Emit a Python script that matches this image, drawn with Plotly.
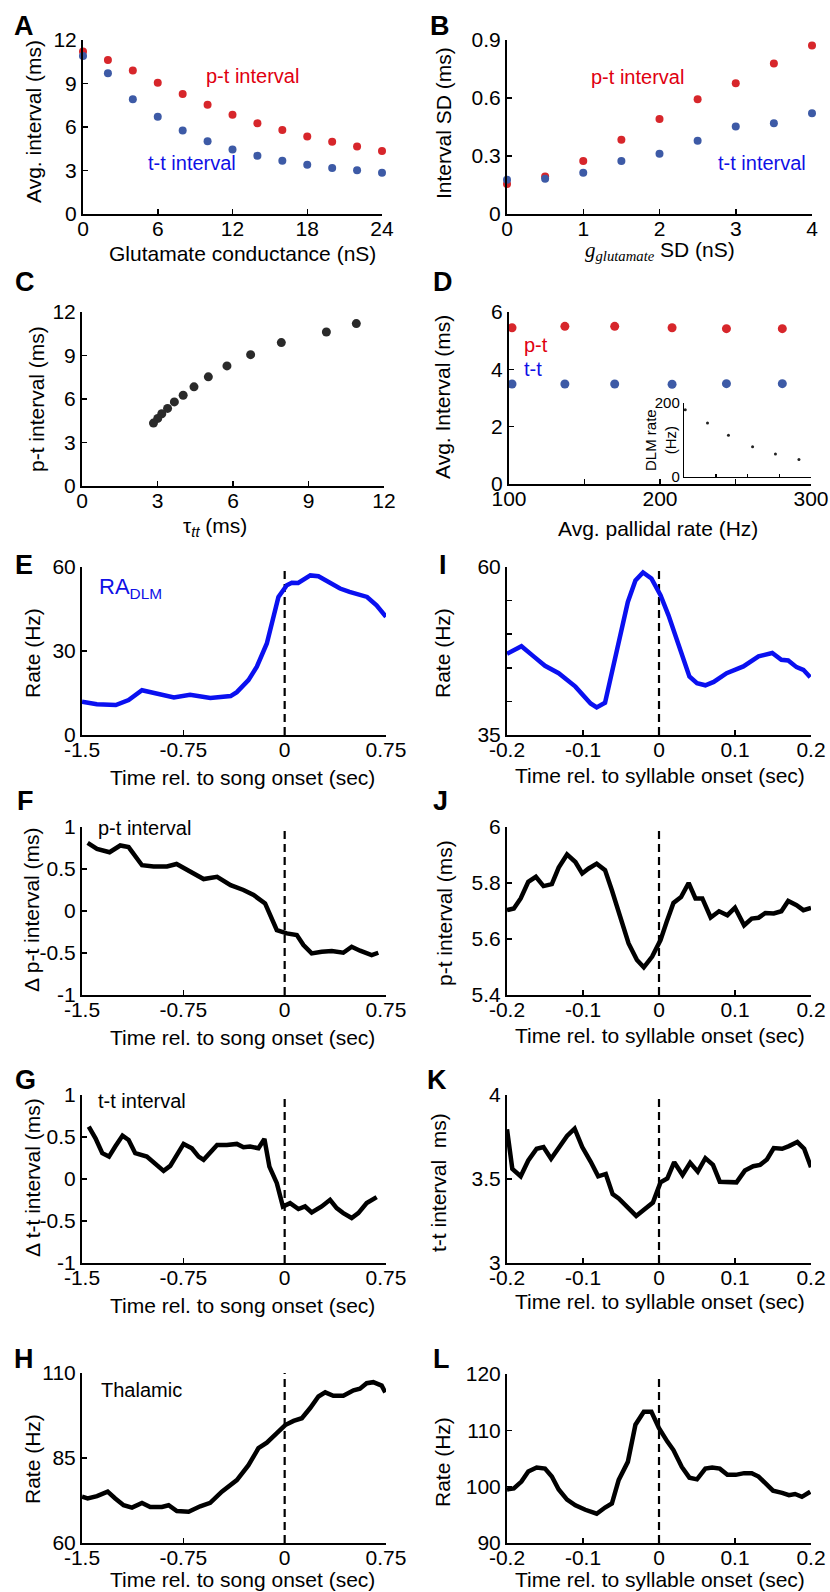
import plotly.graph_objects as go

W, H = 830, 1592

# ---------------- Panel A ----------------
glut_cond = [0, 2, 4, 6, 8, 10, 12, 14, 16, 18, 20, 22, 24]
pt_interval_A = [11.2, 10.62, 9.89, 9.06, 8.28, 7.53, 6.84, 6.26, 5.80, 5.35, 4.98, 4.66, 4.34]
tt_interval_A = [10.9, 9.71, 7.92, 6.70, 5.76, 5.02, 4.45, 4.02, 3.67, 3.40, 3.17, 3.01, 2.84]

# ---------------- Panel B ----------------
glut_sd = [0, 0.5, 1, 1.5, 2, 2.5, 3, 3.5, 4]
pt_sd = [0.155, 0.194, 0.274, 0.384, 0.492, 0.594, 0.676, 0.778, 0.871]
tt_sd = [0.177, 0.182, 0.213, 0.274, 0.311, 0.379, 0.453, 0.470, 0.521]

# ---------------- Panel C (tau_tt vs p-t interval) ----------------
tau_tt = tt_interval_A
pt_C = pt_interval_A

# ---------------- Panel D ----------------
pallidal_rate = [102, 137, 170, 208, 244, 281]
pt_D = [5.45, 5.50, 5.50, 5.45, 5.42, 5.42]
tt_D = [3.49, 3.49, 3.49, 3.48, 3.50, 3.50]
dlm_rate = [182, 146, 113, 82, 62, 47]

# ---------------- Panel E ----------------
tE = [-1.5, -1.39, -1.25, -1.155, -1.056, -0.945, -0.82, -0.70, -0.55, -0.40, -0.354, -0.268,
      -0.206, -0.132, -0.083, -0.046, 0.016, 0.053, 0.10, 0.14, 0.19, 0.25, 0.32, 0.41, 0.48,
      0.61, 0.68, 0.75]
rateE = [11.9, 11.0, 10.7, 12.5, 16.0, 14.6, 13.4, 14.4, 13.2, 13.9, 15.3, 19.6,
         24.4, 32.7, 42.2, 49.3, 53.5, 54.4, 54.3, 55.5, 57.0, 56.7, 54.7, 52.3, 51.1,
         49.3, 46.3, 42.2]

# ---------------- Panel I ----------------
tI = [-0.2, -0.181, -0.165, -0.150, -0.132, -0.110, -0.090, -0.082, -0.071, -0.058, -0.041,
      -0.031, -0.021, -0.010, 0.002, 0.0125, 0.026, 0.040, 0.050, 0.061, 0.072, 0.089, 0.111,
      0.131, 0.149, 0.161, 0.170, 0.181, 0.190, 0.199]
rateI = [47.1, 48.2, 46.7, 45.3, 44.2, 42.2, 39.7, 39.1, 39.8, 46.1, 54.8,
         58.0, 59.2, 58.3, 55.8, 52.8, 48.1, 43.7, 42.7, 42.4, 42.9, 44.2, 45.2,
         46.7, 47.2, 46.2, 46.1, 45.1, 44.7, 43.6]

# ---------------- Panel F ----------------
tF = [-1.458, -1.389, -1.296, -1.217, -1.155, -1.056, -0.97, -0.871, -0.80, -0.70, -0.60, -0.50,
      -0.40, -0.305, -0.23, -0.145, -0.095, -0.058, 0.016, 0.09, 0.139, 0.20, 0.274, 0.349,
      0.434, 0.496, 0.558, 0.644, 0.693]
dptF = [0.81, 0.74, 0.70, 0.78, 0.76, 0.545, 0.53, 0.53, 0.56, 0.465, 0.38, 0.406,
        0.307, 0.25, 0.19, 0.09, -0.109, -0.228, -0.267, -0.287, -0.406, -0.505, -0.485, -0.477,
        -0.497, -0.426, -0.473, -0.525, -0.497]

# ---------------- Panel J ----------------
tJ = [-0.2, -0.191, -0.182, -0.172, -0.162, -0.152, -0.141, -0.132, -0.121, -0.110, -0.101,
      -0.093, -0.082, -0.071, -0.062, -0.051, -0.040, -0.029, -0.020, -0.009, 0.002, 0.010,
      0.019, 0.029, 0.039, 0.048, 0.057, 0.068, 0.079, 0.090, 0.100, 0.112, 0.122, 0.131,
      0.140, 0.151, 0.161, 0.170, 0.181, 0.190, 0.2]
ptJ = [5.703, 5.709, 5.745, 5.804, 5.822, 5.789, 5.796, 5.855, 5.902, 5.875, 5.834,
       5.851, 5.869, 5.846, 5.774, 5.685, 5.584, 5.525, 5.499, 5.537, 5.596, 5.661,
       5.729, 5.750, 5.800, 5.745, 5.745, 5.677, 5.699, 5.685, 5.712, 5.649, 5.673, 5.676,
       5.693, 5.691, 5.699, 5.736, 5.721, 5.703, 5.711]

# ---------------- Panel G ----------------
tG = [-1.45, -1.40, -1.35, -1.30, -1.254, -1.20, -1.155, -1.106, -1.02, -0.958, -0.896, -0.847,
      -0.748, -0.687, -0.637, -0.60, -0.50, -0.428, -0.354, -0.305, -0.256, -0.194, -0.150,
      -0.113, -0.058, -0.013, 0.040, 0.102, 0.151, 0.20, 0.274, 0.336, 0.385, 0.434, 0.496,
      0.545, 0.607, 0.681]
dttG = [0.624, 0.485, 0.307, 0.267, 0.386, 0.517, 0.465, 0.307, 0.267, 0.188, 0.097, 0.156,
        0.418, 0.366, 0.267, 0.228, 0.406, 0.406, 0.418, 0.378, 0.386, 0.366, 0.477,
        0.148, -0.050, -0.327, -0.287, -0.358, -0.327, -0.398, -0.327, -0.248, -0.347, -0.406,
        -0.465, -0.406, -0.287, -0.216]

# ---------------- Panel K ----------------
tK = [-0.2, -0.193, -0.182, -0.172, -0.161, -0.152, -0.142, -0.132, -0.121, -0.111, -0.101,
      -0.090, -0.080, -0.070, -0.061, -0.053, -0.042, -0.030, -0.019, -0.008, 0.002, 0.011,
      0.020, 0.031, 0.041, 0.051, 0.061, 0.071, 0.080, 0.091, 0.102, 0.113, 0.124, 0.133,
      0.142, 0.151, 0.162, 0.171, 0.182, 0.191, 0.2]
ttK = [3.796, 3.56, 3.516, 3.61, 3.68, 3.69, 3.62, 3.68, 3.756, 3.80, 3.69,
       3.604, 3.516, 3.53, 3.41, 3.384, 3.33, 3.28, 3.32, 3.36, 3.48, 3.504,
       3.60, 3.524, 3.596, 3.544, 3.624, 3.584, 3.484, 3.48, 3.48, 3.55, 3.576, 3.584,
       3.616, 3.684, 3.68, 3.696, 3.72, 3.68, 3.57]

# ---------------- Panel H ----------------
tH = [-1.5, -1.458, -1.389, -1.31, -1.254, -1.192, -1.13, -1.056, -0.995, -0.909, -0.859, -0.798,
      -0.711, -0.625, -0.551, -0.465, -0.354, -0.268, -0.194, -0.132, -0.058, 0.004, 0.066,
      0.127, 0.189, 0.25, 0.30, 0.36, 0.434, 0.51, 0.557, 0.607, 0.656, 0.718, 0.745]
rateH = [73.6, 73.1, 73.8, 75.1, 73.1, 71.1, 70.4, 71.8, 70.6, 70.6, 71.1, 69.4,
         69.2, 70.8, 71.8, 75.1, 78.5, 82.9, 87.9, 89.5, 92.3, 94.7, 95.9,
         96.7, 99.7, 103.1, 104.3, 103.3, 103.3, 104.9, 105.4, 107.0, 107.3, 106.3, 104.3]

# ---------------- Panel L ----------------
tL = [-0.2, -0.191, -0.181, -0.172, -0.161, -0.150, -0.141, -0.132, -0.121, -0.110, -0.097,
      -0.082, -0.071, -0.062, -0.053, -0.041, -0.031, -0.020, -0.010, 0.000, 0.011, 0.019,
      0.030, 0.040, 0.050, 0.061, 0.070, 0.080, 0.090, 0.101, 0.112, 0.122, 0.131, 0.142,
      0.150, 0.162, 0.171, 0.179, 0.188, 0.199]
rateL = [99.5, 99.7, 100.9, 102.7, 103.4, 103.2, 101.8, 99.5, 97.7, 96.7, 95.9,
         95.2, 96.3, 97.0, 101.2, 104.4, 111.0, 113.3, 113.3, 110.4, 108.0, 106.5,
         103.5, 101.6, 101.3, 103.2, 103.4, 103.2, 102.1, 102.1, 102.4, 102.4, 101.8, 100.3,
         99.3, 98.9, 98.5, 98.7, 98.2, 99.1]

# ---------------- styling ----------------
FONT = "Liberation Sans, Arial, sans-serif"
RED_DOT = "#d7262b"
BLUE_DOT = "#3d5aa6"
RED_TXT = "#e00010"
BLUE_TXT = "#1010e6"
LINE_BLUE = "#0a10f0"
TICK_FS = 21
TITLE_FS = 21
NOTE_FS = 20
LETTER_FS = 27

def fx(px):
    return px / W

def fy(py):
    return 1 - py / H

fig = go.Figure()
layout = {}

def ax_ids(i):
    return ("x" if i == 1 else f"x{i}", "y" if i == 1 else f"y{i}")

def add_axes(i, xd, yd, xr, yr, xt, yt, xtt=None, ytt=None, fs=TICK_FS, lw=2, tl=5, xstand=-5):
    xid, yid = ax_ids(i)
    xkey = "xaxis" if i == 1 else f"xaxis{i}"
    ykey = "yaxis" if i == 1 else f"yaxis{i}"
    common = dict(showline=True, linewidth=lw, linecolor="black", ticks="inside", ticklen=tl,
                  tickwidth=1.5, tickcolor="black", showgrid=False, zeroline=False, automargin=False,
                  tickfont=dict(family=FONT, size=fs, color="black"), mirror=False)
    layout[xkey] = dict(domain=[fx(xd[0]), fx(xd[1])], range=xr, anchor=yid, tickmode="array",
                        ticklabelstandoff=xstand,
                        tickvals=xt, ticktext=xtt if xtt is not None else [str(v) for v in xt], **common)
    layout[ykey] = dict(domain=[fy(yd[1]), fy(yd[0])], range=yr, anchor=xid, tickmode="array",
                        tickvals=yt, ticktext=ytt if ytt is not None else [str(v) for v in yt], **common)
    return xid, yid

def dots(xid, yid, x, y, color, size):
    fig.add_trace(go.Scatter(x=x, y=y, mode="markers", xaxis=xid, yaxis=yid, cliponaxis=False,
                             marker=dict(color=color, size=size, line=dict(width=0)), showlegend=False))

def curve(xid, yid, x, y, color):
    fig.add_trace(go.Scatter(x=x, y=y, mode="lines", xaxis=xid, yaxis=yid, cliponaxis=False,
                             line=dict(color=color, width=4.5), showlegend=False))

def vdash(xid, yid):
    layout.setdefault("shapes", []).append(dict(type="line", xref=xid, yref=f"{yid} domain",
                                                x0=0, x1=0, y0=0, y1=1, layer="below",
                                                line=dict(color="black", width=2.2, dash="8px,5px")))

annots = []

def text(x, y, s, size=TITLE_FS, color="black", angle=0, xanchor="center", bold=False):
    annots.append(dict(x=fx(x), y=fy(y), xref="paper", yref="paper", text=(f"<b>{s}</b>" if bold else s),
                       showarrow=False, textangle=angle, xanchor=xanchor, yanchor="middle",
                       font=dict(family=FONT, size=size, color=color)))

# A
xa, ya = add_axes(1, (83, 382), (40, 214), [0, 24], [0, 12], [0, 6, 12, 18, 24], [0, 3, 6, 9, 12])
dots(xa, ya, glut_cond, pt_interval_A, RED_DOT, 8)
dots(xa, ya, glut_cond, tt_interval_A, BLUE_DOT, 8)
text(252, 76, "p-t interval", NOTE_FS, RED_TXT)
text(192, 163, "t-t interval", NOTE_FS, BLUE_TXT)
text(242, 253, "Glutamate conductance (nS)")
text(34, 122, "Avg. interval (ms)", angle=-90)
text(24, 26, "A", LETTER_FS, bold=True)

# B
xb, yb = add_axes(2, (507, 812), (40, 214), [0, 4], [0, 0.9], [0, 1, 2, 3, 4], [0, 0.3, 0.6, 0.9])
dots(xb, yb, glut_sd, pt_sd, RED_DOT, 8)
dots(xb, yb, glut_sd, tt_sd, BLUE_DOT, 8)
text(637, 77, "p-t interval", NOTE_FS, RED_TXT)
text(762, 163, "t-t interval", NOTE_FS, BLUE_TXT)
text(660, 251, "<span style='font-family:Liberation Serif'><i>g<sub>glutamate</sub></i></span> SD (nS)")
text(444, 123, "Interval SD (ms)", angle=-90)
text(440, 26, "B", LETTER_FS, bold=True)

# C
xc, yc = add_axes(3, (82, 384), (312, 486), [0, 12], [0, 12], [0, 3, 6, 9, 12], [0, 3, 6, 9, 12])
dots(xc, yc, tau_tt, pt_C, "#2a2a2a", 9)
text(215, 527, "τ<sub><i>tt</i></sub> (ms)")
text(36, 399, "p-t interval (ms)", angle=-90)
text(25, 282, "C", LETTER_FS, bold=True)

# D
xdd, ydd = add_axes(4, (509, 811), (312, 484), [100, 300], [0, 6], [100, 150, 200, 250, 300], [0, 2, 4, 6],
                    xtt=["100", "", "200", "", "300"])
dots(xdd, ydd, pallidal_rate, pt_D, RED_DOT, 9)
dots(xdd, ydd, pallidal_rate, tt_D, BLUE_DOT, 9)
text(522, 345, "p-t", NOTE_FS, RED_TXT, xanchor="left")
text(522, 369, "t-t", NOTE_FS, BLUE_TXT, xanchor="left")
text(658, 528, "Avg. pallidal rate (Hz)")
text(442, 397, "Avg. Interval (ms)", angle=-90)
text(443, 282, "D", LETTER_FS, bold=True)

# D inset
xin, yin = add_axes(13, (684, 811), (403, 477), [100, 300], [0, 200], [150, 200, 250, 300], [0, 200],
                    xtt=["", "", "", ""], fs=15, lw=1.2, tl=3, xstand=0)
dots(xin, yin, pallidal_rate, dlm_rate, "#222222", 3)
text(661, 440, "DLM rate<br>(Hz)", 15, angle=-90)

# E
xe, ye = add_axes(5, (82, 386), (567, 735), [-1.5, 0.75], [0, 60], [-1.5, -0.75, 0, 0.75], [0, 30, 60])
vdash(xe, ye)
curve(xe, ye, tE, rateE, LINE_BLUE)
text(97, 588, "RA<sub>DLM</sub>", 22, BLUE_TXT, xanchor="left")
text(242, 777, "Time rel. to song onset (sec)")
text(32, 653, "Rate (Hz)", angle=-90)
text(24, 565, "E", LETTER_FS, bold=True)

# I
xi, yi = add_axes(6, (507, 811), (567, 735), [-0.2, 0.2], [35, 60], [-0.2, -0.1, 0, 0.1, 0.2],
                  [35, 40, 45, 50, 55, 60], ytt=["35", "", "", "", "", "60"])
vdash(xi, yi)
curve(xi, yi, tI, rateI, LINE_BLUE)
text(660, 775, "Time rel. to syllable onset (sec)")
text(442, 653, "Rate (Hz)", angle=-90)
text(443, 565, "I", LETTER_FS, bold=True)

# F
xf, yf = add_axes(7, (82, 386), (827, 995), [-1.5, 0.75], [-1, 1], [-1.5, -0.75, 0, 0.75],
                  [-1, -0.5, 0, 0.5, 1])
vdash(xf, yf)
curve(xf, yf, tF, dptF, "black")
text(96, 828, "p-t interval", NOTE_FS, xanchor="left")
text(242, 1037, "Time rel. to song onset (sec)")
text(32, 910, "Δ p-t interval (ms)", angle=-90)
text(25, 801, "F", LETTER_FS, bold=True)

# J
xj, yj = add_axes(8, (507, 811), (827, 995), [-0.2, 0.2], [5.4, 6], [-0.2, -0.1, 0, 0.1, 0.2],
                  [5.4, 5.6, 5.8, 6])
vdash(xj, yj)
curve(xj, yj, tJ, ptJ, "black")
text(660, 1035, "Time rel. to syllable onset (sec)")
text(444, 913, "p-t interval (ms)", angle=-90)
text(440, 801, "J", LETTER_FS, bold=True)

# G
xg, yg = add_axes(9, (82, 386), (1095, 1263), [-1.5, 0.75], [-1, 1], [-1.5, -0.75, 0, 0.75],
                  [-1, -0.5, 0, 0.5, 1])
vdash(xg, yg)
curve(xg, yg, tG, dttG, "black")
text(96, 1101, "t-t interval", NOTE_FS, xanchor="left")
text(242, 1305, "Time rel. to song onset (sec)")
text(32, 1178, "Δ t-t interval (ms)", angle=-90)
text(25, 1080, "G", LETTER_FS, bold=True)

# K
xk, yk = add_axes(10, (507, 811), (1095, 1263), [-0.2, 0.2], [3, 4], [-0.2, -0.1, 0, 0.1, 0.2],
                  [3, 3.5, 4])
vdash(xk, yk)
curve(xk, yk, tK, ttK, "black")
text(660, 1301, "Time rel. to syllable onset (sec)")
text(438, 1183, "t-t interval  ms)", angle=-90)
text(437, 1080, "K", LETTER_FS, bold=True)

# H
xh, yh = add_axes(11, (82, 386), (1373, 1543), [-1.5, 0.75], [60, 110], [-1.5, -0.75, 0, 0.75],
                  [60, 85, 110])
vdash(xh, yh)
curve(xh, yh, tH, rateH, "black")
text(99, 1390, "Thalamic", NOTE_FS, xanchor="left")
text(242, 1579, "Time rel. to song onset (sec)")
text(32, 1459, "Rate (Hz)", angle=-90)
text(24, 1359, "H", LETTER_FS, bold=True)

# L
xl, yl = add_axes(12, (507, 811), (1374, 1543), [-0.2, 0.2], [90, 120], [-0.2, -0.1, 0, 0.1, 0.2],
                  [90, 100, 110, 120])
vdash(xl, yl)
curve(xl, yl, tL, rateL, "black")
text(660, 1579, "Time rel. to syllable onset (sec)")
text(442, 1462, "Rate (Hz)", angle=-90)
text(441, 1359, "L", LETTER_FS, bold=True)

layout["annotations"] = annots
fig.update_layout(width=W, height=H, margin=dict(l=0, r=0, t=0, b=0, pad=0, autoexpand=False),
                  paper_bgcolor="white",
                  plot_bgcolor="rgba(0,0,0,0)", showlegend=False, font=dict(family=FONT, color="black"),
                  **layout)
fig.write_html("out.html", config={"displayModeBar": False, "staticPlot": True},
               post_script="document.body.style.margin='0px';document.body.style.padding='0px';")
